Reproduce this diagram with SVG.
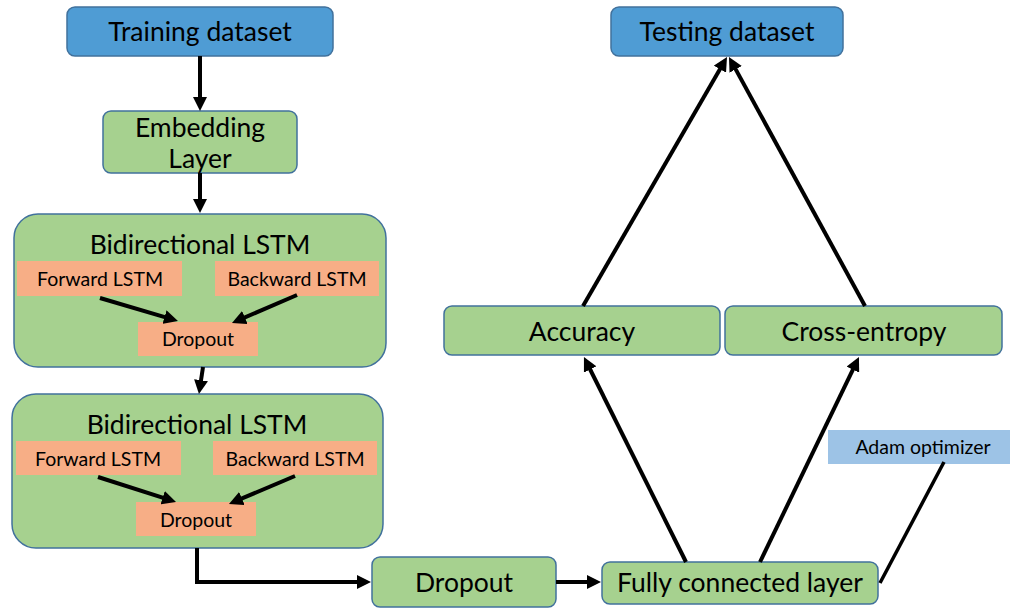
<svg xmlns="http://www.w3.org/2000/svg" width="1010" height="610" viewBox="0 0 1010 610">
<defs>
<marker id="ah" viewBox="0 0 10 10" refX="4" refY="5" markerUnits="userSpaceOnUse" markerWidth="14" markerHeight="14" orient="auto">
<path d="M0,0 L10,5 L0,10 z" fill="#000"/>
</marker>
</defs>
<style>
.blue{fill:#4F9CD4;stroke:#41719C;stroke-width:1.5}
.green{fill:#A6D18F;stroke:#41719C;stroke-width:1.5}
.orange{fill:#F7AE86}
.lblue{fill:#9DC3E6}
text{font-family:Lato,"Open Sans","Liberation Sans",sans-serif;fill:#000;text-anchor:middle}
.big{font-size:26.5px}
.mid{font-size:19.5px}
.sm{font-size:19.5px}
.con line,.con path{stroke:#000;stroke-width:4;fill:none}
</style>
<rect width="1010" height="610" fill="#fff"/>
<g id="training"><rect class="blue" x="67" y="7" width="266" height="49" rx="8"/><text class="big" x="200" y="41">Training dataset</text></g>
<g id="embedding"><rect class="green" x="103" y="111" width="194" height="62" rx="8"/><text class="big" x="200" y="137">Embedding</text><text class="big" x="200" y="168">Layer</text></g>
<g id="bilstm1"><rect class="green" x="14" y="214" width="372" height="153" rx="24"/><text class="big" x="200" y="254">Bidirectional LSTM</text></g>
<g id="fwd1"><rect class="orange" x="17" y="261" width="165" height="35"/><text class="mid" x="100" y="286">Forward LSTM</text></g>
<g id="bwd1"><rect class="orange" x="215" y="261" width="164" height="35"/><text class="mid" x="297" y="286">Backward LSTM</text></g>
<g id="drop1"><rect class="orange" x="138" y="322" width="120" height="34"/><text class="mid" x="198" y="346">Dropout</text></g>
<g id="bilstm2"><rect class="green" x="12" y="394" width="371" height="154" rx="24"/><text class="big" x="197" y="434">Bidirectional LSTM</text></g>
<g id="fwd2"><rect class="orange" x="16" y="441" width="165" height="34"/><text class="mid" x="98" y="466">Forward LSTM</text></g>
<g id="bwd2"><rect class="orange" x="213" y="441" width="164" height="34"/><text class="mid" x="295" y="466">Backward LSTM</text></g>
<g id="drop2"><rect class="orange" x="136" y="502" width="120" height="34"/><text class="mid" x="196" y="527">Dropout</text></g>
<g id="dropout"><rect class="green" x="372" y="557" width="184" height="50" rx="8"/><text class="big" x="464" y="592">Dropout</text></g>
<g id="fc"><rect class="green" x="602" y="562" width="276" height="42" rx="8"/><text class="big" x="740" y="592">Fully connected layer</text></g>
<g id="accuracy"><rect class="green" x="444" y="306" width="276" height="49" rx="8"/><text class="big" x="582" y="341">Accuracy</text></g>
<g id="crossentropy"><rect class="green" x="725" y="306" width="277" height="49" rx="8"/><text class="big" x="864" y="341">Cross-entropy</text></g>
<g id="testing"><rect class="blue" x="611" y="7" width="232" height="49" rx="8"/><text class="big" x="727" y="41">Testing dataset</text></g>
<g id="adam"><rect class="lblue" x="828" y="430" width="182" height="34"/><text class="sm" x="923" y="454">Adam optimizer</text></g>
<g id="connectors" class="con">
<line x1="200" y1="56" x2="200" y2="102.6" marker-end="url(#ah)"/>
<line x1="200" y1="173" x2="200" y2="204.6" marker-end="url(#ah)"/>
<line x1="203" y1="367" x2="200.2" y2="385.7" marker-end="url(#ah)"/>
<line x1="100" y1="298" x2="169.9" y2="318.6" marker-end="url(#ah)"/>
<line x1="297" y1="295" x2="239.7" y2="319.7" marker-end="url(#ah)"/>
<line x1="98" y1="477" x2="168" y2="499.4" marker-end="url(#ah)"/>
<line x1="295" y1="476" x2="236.7" y2="500.7" marker-end="url(#ah)"/>
<path d="M197,548 L197,582 L362.6,582" marker-end="url(#ah)"/>
<line x1="556" y1="582" x2="592.6" y2="582" marker-end="url(#ah)"/>
<line x1="686" y1="562" x2="587.7" y2="364.5" marker-end="url(#ah)"/>
<line x1="760" y1="562" x2="855.3" y2="364.6" marker-end="url(#ah)"/>
<line x1="583" y1="306" x2="722.8" y2="64.3" marker-end="url(#ah)"/>
<line x1="865" y1="306" x2="733" y2="64.4" marker-end="url(#ah)"/>
<line x1="944" y1="462" x2="880" y2="583" style="stroke-width:3.5"/>
</g>
</svg>
